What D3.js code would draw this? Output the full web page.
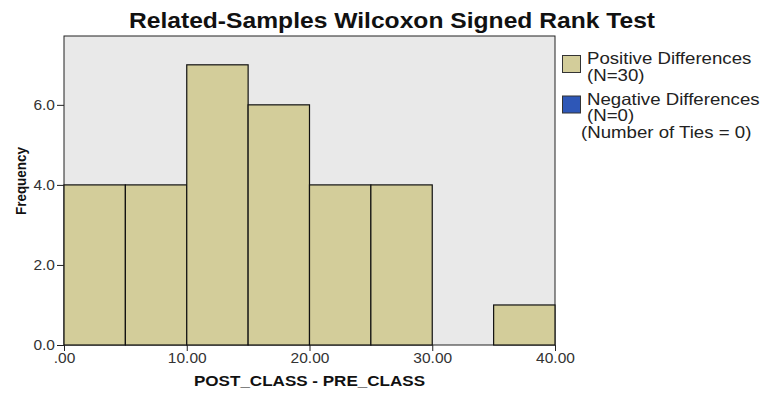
<!DOCTYPE html>
<html lang="en">
<head>
  <meta charset="UTF-8" />
  <title>Related-Samples Wilcoxon Signed Rank Test</title>
  <script src="https://cdn.jsdelivr.net/npm/d3@7"></script>
  <style>
    html, body { margin: 0; padding: 0; background: #fff; }
    svg { display: block; font-family: "Liberation Sans", Arial, sans-serif; }
  </style>
</head>
<body>
  <script>
    // Histogram bins (difference POST - PRE) and their counts
    const binStarts = [0, 5, 10, 15, 20, 25, 30, 35];
    const binWidth = 5;
    const counts = [4, 4, 7, 6, 4, 4, 0, 1];
    const xTicks = [0, 10, 20, 30, 40];
    const xTickLabels = [".00", "10.00", "20.00", "30.00", "40.00"];
    const yTicks = [0, 2, 4, 6];
    const yTickLabels = ["0.0", "2.0", "4.0", "6.0"];
    const legendItems = [
      { lines: ["Positive Differences", "(N=30)"], color: "#d3cd9a" },
      { lines: ["Negative Differences", "(N=0)"], color: "#2e57b7" }
    ];

    const width = 761, height = 398;
    const margin = { left: 64, right: 206, top: 36, bottom: 53 };
    const stretch = 1.12; // text in the source is a little wide

    const svg = d3.select("body").append("svg")
      .attr("width", width)
      .attr("height", height);

    const x = d3.scaleLinear().domain([0, 40]).range([margin.left, width - margin.right]);
    const y = d3.scaleLinear().domain([0, 7.72]).range([height - margin.bottom, margin.top]);

    // plot background
    svg.append("rect")
      .attr("x", x(0)).attr("y", y(7.72))
      .attr("width", x(40) - x(0)).attr("height", y(0) - y(7.72))
      .attr("fill", "#e9e9e9")
      .attr("stroke", "#222").attr("stroke-width", 1);

    // bars
    svg.append("g").selectAll("rect")
      .data(binStarts.map((s, i) => ({ s, c: counts[i] })).filter(d => d.c > 0))
      .join("rect")
        .attr("x", d => x(d.s))
        .attr("y", d => y(d.c))
        .attr("width", d => x(d.s + binWidth) - x(d.s))
        .attr("height", d => y(0) - y(d.c))
        .attr("fill", "#d3cd9a")
        .attr("stroke", "#111")
        .attr("stroke-width", 1.2);

    // axes
    const xAxis = svg.append("g")
      .attr("transform", `translate(0,${y(0)})`)
      .call(d3.axisBottom(x).tickValues(xTicks)
        .tickFormat((d, i) => xTickLabels[i]).tickSize(6).tickPadding(1));
    const yAxis = svg.append("g")
      .attr("transform", `translate(${x(0)},0)`)
      .call(d3.axisLeft(y).tickValues(yTicks)
        .tickFormat((d, i) => yTickLabels[i]).tickSize(7).tickPadding(2));
    [xAxis, yAxis].forEach(g => {
      g.select(".domain").remove();
      g.selectAll("line").attr("stroke", "#222");
      g.selectAll("text").attr("fill", "#333")
        .style("font-size", "15.5px")
        .style("font-family", "'Liberation Sans', Arial, sans-serif");
    });

    // title
    svg.append("text")
      .attr("transform", `translate(392,28) scale(${stretch},1)`)
      .attr("text-anchor", "middle")
      .style("font-size", "22px")
      .style("font-weight", "bold")
      .attr("fill", "#111")
      .text("Related-Samples Wilcoxon Signed Rank Test");

    // axis titles
    svg.append("text")
      .attr("transform", `translate(${(x(0) + x(40)) / 2},386) scale(1.1,1)`)
      .attr("text-anchor", "middle")
      .style("font-size", "15.5px").style("font-weight", "bold")
      .attr("fill", "#111")
      .text("POST_CLASS - PRE_CLASS");
    svg.append("text")
      .attr("transform", `translate(26,181) rotate(-90) scale(1,1.15)`)
      .attr("text-anchor", "middle")
      .style("font-size", "13.5px").style("font-weight", "bold")
      .attr("fill", "#111")
      .text("Frequency");

    // legend
    const legend = svg.append("g").attr("transform", "translate(562,55)");
    legendItems.forEach((item, i) => {
      const g = legend.append("g").attr("transform", `translate(0,${i * 40.5})`);
      g.append("rect")
        .attr("x", 0.5).attr("y", 0.5)
        .attr("width", 18).attr("height", 17)
        .attr("fill", item.color)
        .attr("stroke", "#333");
      item.lines.forEach((t, j) => {
        g.append("text")
          .attr("transform", `translate(25,${9 + j * 16.5}) scale(1.13,1)`)
          .style("font-size", "16.5px")
          .attr("fill", "#222")
          .text(t);
      });
    });
    legend.append("text")
      .attr("transform", `translate(19,83) scale(1.13,1)`)
      .style("font-size", "16.5px")
      .attr("fill", "#222")
      .text("(Number of Ties = 0)");
  </script>
</body>
</html>
